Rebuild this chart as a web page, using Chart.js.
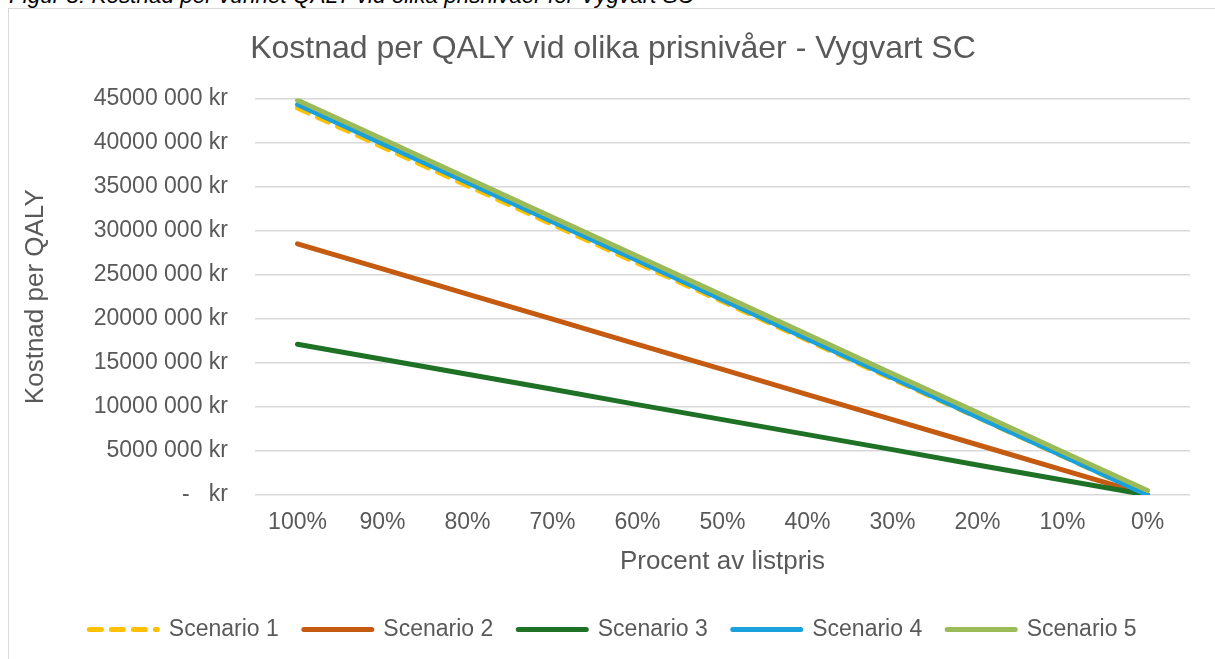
<!DOCTYPE html>
<html>
<head>
<meta charset="utf-8">
<script src="https://cdn.jsdelivr.net/npm/chart.js@4"></script>
<style>
    html, body { margin: 0; padding: 0; background: #fff; overflow: hidden; }
    body { width: 1215px; height: 659px; position: relative; }
    #caption {
        position: absolute; left: 9px; top: -17px;
        font: italic 22.5px "Liberation Sans", Arial, sans-serif; color: #000;
        white-space: nowrap;
    }
    #frame {
        position: absolute; left: 8px; top: 8px; width: 1220px; height: 660px;
        border: 1px solid #d9d9d9; box-sizing: border-box;
    }
    #wrap { position: absolute; left: 9px; top: 9px; width: 1206px; height: 650px; }
</style>
</head>
<body>
<div id="caption">Figur 8: Kostnad per vunnet QALY vid olika prisnivåer för Vygvart SC</div>
<div id="frame"></div>
<div id="wrap"><canvas id="chart"></canvas></div>
<script>
// Data (kr per QALY)
const categories = ['100%', '90%', '80%', '70%', '60%', '50%', '40%', '30%', '20%', '10%', '0%'];
const seriesNames = ['Scenario 1', 'Scenario 2', 'Scenario 3', 'Scenario 4', 'Scenario 5'];
const scenario1 = [43900000, 39500000, 35100000, 30700000, 26300000, 21950000, 17550000, 13150000, 8800000, 4400000, 0];
const scenario2 = [28500000, 25650000, 22800000, 19950000, 17100000, 14250000, 11400000, 8550000, 5700000, 2850000, 0];
const scenario3 = [17100000, 15400000, 13700000, 12000000, 10250000, 8550000, 6850000, 5150000, 3400000, 1700000, 0];
const scenario4 = [44300000, 39850000, 35450000, 31000000, 26600000, 22150000, 17700000, 13300000, 8850000, 4450000, 0];
const scenario5 = [44800000, 40400000, 35950000, 31500000, 27100000, 22650000, 18200000, 13750000, 9350000, 4900000, 500000];
const yTicks = [0, 5000000, 10000000, 15000000, 20000000, 25000000, 30000000, 35000000, 40000000, 45000000];

const textColor = '#595959';
const fontFamily = '"Liberation Sans", Arial, sans-serif';

function makeSet(label, data, color, order, dash) {
    return {
        label: label,
        data: data,
        borderColor: color,
        backgroundColor: color,
        borderWidth: 5,
        borderDash: dash || [],
        borderCapStyle: 'round',
        pointRadius: 0,
        tension: 0,
        order: order
    };
}

function formatKr(value) {
    if (value === 0) return '-   kr';
    return (value / 1000) + ' 000 kr';
}

// legend items with the dataset's own dash and round caps
function legendLabels(chart) {
    const items = Chart.defaults.plugins.legend.labels.generateLabels(chart);
    items.forEach(item => {
        const ds = chart.data.datasets[item.datasetIndex];
        item.lineDash = ds.borderDash;
        item.lineCap = 'round';
        item.lineWidth = 5;
    });
    return items;
}

const ctx = document.getElementById('chart').getContext('2d');
new Chart(ctx, {
    type: 'line',
    data: {
        labels: categories,
        datasets: [
            makeSet(seriesNames[0], scenario1, '#FFC000', 5, [12, 10]),
            makeSet(seriesNames[1], scenario2, '#C55A11', 4),
            makeSet(seriesNames[2], scenario3, '#1E7125', 3),
            makeSet(seriesNames[3], scenario4, '#1AA0DA', 2),
            makeSet(seriesNames[4], scenario5, '#9BBB59', 1)
        ]
    },
    options: {
        responsive: true,
        maintainAspectRatio: false,
        animation: false,
        // left padding centres title and legend like the original
        layout: { padding: { left: 27, right: 25, top: 0, bottom: 8 } },
        plugins: {
            title: {
                display: true,
                text: 'Kostnad per QALY vid olika prisnivåer - Vygvart SC',
                color: textColor,
                font: { family: fontFamily, size: 32, weight: 'normal' },
                padding: { top: 21, bottom: 30 }
            },
            legend: {
                position: 'bottom',
                labels: {
                    color: textColor,
                    font: { family: fontFamily, size: 23 },
                    usePointStyle: true,
                    pointStyle: 'line',
                    pointStyleWidth: 68,
                    padding: 25,
                    generateLabels: legendLabels,
                    sort: (a, b) => a.datasetIndex - b.datasetIndex
                }
            },
            tooltip: { enabled: false }
        },
        scales: {
            x: {
                offset: true,
                grid: { display: false, drawTicks: false },
                border: { display: false },
                ticks: {
                    color: textColor,
                    font: { family: fontFamily, size: 23 },
                    padding: 14,
                    maxRotation: 0,
                    autoSkip: false
                },
                title: {
                    display: true,
                    text: 'Procent av listpris',
                    color: textColor,
                    font: { family: fontFamily, size: 26 },
                    padding: { top: 4, bottom: 16 }
                },
                afterFit: scale => { scale.height = 98; }
            },
            y: {
                min: 0,
                max: 45000000,
                grid: { color: '#d9d9d9', lineWidth: 1.5, drawTicks: false },
                border: { display: false },
                afterBuildTicks: scale => {
                    scale.ticks = yTicks.map(v => ({ value: v }));
                },
                ticks: {
                    color: textColor,
                    font: { family: fontFamily, size: 23 },
                    padding: 27,
                    callback: formatKr
                },
                title: {
                    display: true,
                    text: 'Kostnad per QALY',
                    color: textColor,
                    font: { family: fontFamily, size: 26 },
                    padding: { top: -16, bottom: 4 }
                },
                afterFit: scale => { scale.width = 219; }
            }
        }
    }
});
</script>
</body>
</html>
